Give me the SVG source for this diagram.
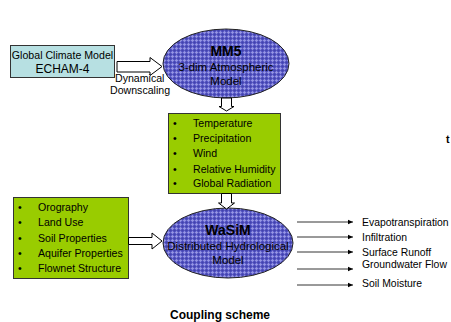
<svg xmlns="http://www.w3.org/2000/svg" width="451" height="322" viewBox="0 0 451 322">
<style>
text{font-family:"Liberation Sans",Arial,sans-serif;fill:#000}
.t{font-size:10.6px}
.o{font-size:10.4px}
.b{font-weight:bold}
.box{stroke:#333;stroke-width:1}
.green{fill:#99cc00}
.ell{fill:url(#grid);stroke:#222;stroke-width:1}
.blk{fill:#fff;stroke:#000;stroke-width:1}
.ln{stroke:#000;stroke-width:0.8;fill:none}
</style>
<defs>
<pattern id="grid" width="4" height="4" patternUnits="userSpaceOnUse">
<rect width="4" height="4" fill="#5a5ac8"/>
<path d="M0 0.5H4M0.5 0V4" stroke="#9a9ae6" stroke-width="0.8"/>
<path d="M0 2.5H4M2.5 0V4" stroke="#3e3eaa" stroke-width="0.6"/>
</pattern>
<marker id="ah" markerWidth="6" markerHeight="6" refX="5" refY="3" orient="auto" markerUnits="userSpaceOnUse">
<path d="M0 0.8L5 3L0 5.2Z" fill="#000"/>
</marker>
</defs>

<g id="gcm">
<rect class="box" x="10.5" y="45.5" width="104" height="32" fill="#b7e0e2"/>
<text class="t" x="62.5" y="59" text-anchor="middle">Global Climate Model</text>
<text x="62.5" y="73" text-anchor="middle" font-size="12">ECHAM-4</text>
</g>

<g id="mm5">
<ellipse class="ell" cx="226" cy="63.5" rx="63" ry="34.5"/>
<text x="226" y="56" text-anchor="middle" class="b" font-size="14">MM5</text>
<text x="226" y="71" text-anchor="middle" font-size="11.5">3-dim Atmospheric</text>
<text x="226" y="85" text-anchor="middle" font-size="11.5">Model</text>
</g>

<g id="vars">
<rect class="box green" x="168.5" y="113.5" width="112" height="80"/>
<g class="t">
<text x="173" y="127">•</text><text x="193" y="127">Temperature</text>
<text x="173" y="142">•</text><text x="193" y="142">Precipitation</text>
<text x="173" y="157">•</text><text x="193" y="157">Wind</text>
<text x="173" y="172.5">•</text><text x="193" y="172.5">Relative Humidity</text>
<text x="173" y="187">•</text><text x="193" y="187">Global Radiation</text>
</g>
</g>

<g id="inputs">
<rect class="box green" x="13.5" y="197.5" width="115" height="81"/>
<g class="t">
<text x="18" y="211">•</text><text x="38" y="211">Orography</text>
<text x="18" y="226">•</text><text x="38" y="226">Land Use</text>
<text x="18" y="241.5">•</text><text x="38" y="241.5">Soil Properties</text>
<text x="18" y="256.5">•</text><text x="38" y="256.5">Aquifer Properties</text>
<text x="18" y="272">•</text><text x="38" y="272">Flownet Structure</text>
</g>
</g>

<g id="wasim">
<ellipse class="ell" cx="228" cy="243" rx="65" ry="35"/>
<text x="228" y="235" text-anchor="middle" class="b" font-size="14">WaSiM</text>
<text x="228" y="250" text-anchor="middle" font-size="11.5">Distributed Hydrological</text>
<text x="228" y="264" text-anchor="middle" font-size="11.5">Model</text>
</g>

<g id="outputs" class="o">
<text x="362" y="226">Evapotranspiration</text>
<text x="362" y="241">Infiltration</text>
<text x="362" y="256">Surface Runoff</text>
<text x="362" y="268">Groundwater Flow</text>
<text x="362" y="287">Soil Moisture</text>
</g>

<g id="connectors">
<path class="blk" d="M117 61.5H150V57.5L162 66.5L150 75.5V72H117Z"/>
<path class="blk" d="M221.5 98V106.5H219L226.5 111L234 106.5H231.5V98Z"/>
<path class="blk" d="M221.5 193.5V203H218.5L226.5 209L234.5 203H231.5V193.5Z"/>
<path class="blk" d="M128.5 237.5H152V233L162 241L152 249V244.5H128.5Z"/>
<line class="ln" x1="297" y1="222" x2="353" y2="222" marker-end="url(#ah)"/>
<line class="ln" x1="297" y1="237" x2="353" y2="237" marker-end="url(#ah)"/>
<line class="ln" x1="297" y1="252" x2="353" y2="252" marker-end="url(#ah)"/>
<line class="ln" x1="297" y1="269" x2="353" y2="269" marker-end="url(#ah)"/>
<line class="ln" x1="297" y1="285" x2="353" y2="285" marker-end="url(#ah)" stroke="#777"/>
</g>

<text x="115" y="82" class="t">Dynamical</text>
<text x="110" y="94" class="t">Downscaling</text>
<text x="446" y="143" font-size="10.6" class="b">t</text>
<text x="220" y="319" text-anchor="middle" class="b" font-size="12">Coupling scheme</text>
</svg>
